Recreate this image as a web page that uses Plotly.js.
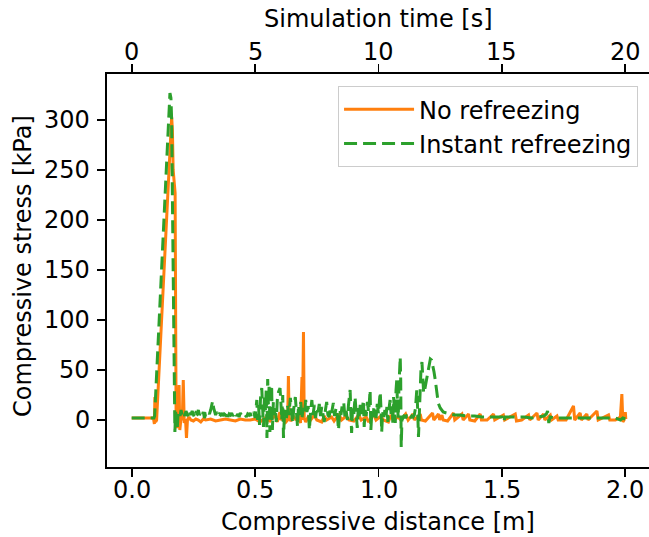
<!DOCTYPE html>
<html>
<head>
<meta charset="utf-8">
<script src="https://cdn.plot.ly/plotly-3.0.1.min.js"></script>
<style>
html,body{margin:0;padding:0;overflow:hidden;background:#fff;}
#chart{width:652px;height:537px;}
</style>
</head>
<body>
<div id="chart"></div>
<script>
// Compressive distance [m], compressive stress [kPa]
const noRefreezing = [
[0,2],[0.03,2],[0.06,2],[0.088,2],[0.092,-4],[0.094,23],[0.097,-2],[0.101,0],
[0.162,303],[0.165,290],[0.168,250],[0.172,235],[0.176,227],[0.18,0],[0.184,-8],[0.188,2],
[0.192,35],[0.195,-10],[0.2,2],[0.205,0],[0.209,40],[0.213,-3],[0.218,1],[0.222,-18],[0.226,0],
[0.232,3],[0.24,0],[0.25,-1],[0.26,1],[0.27,0],[0.28,-2],[0.29,1],[0.3,0],[0.32,1],[0.34,-1],
[0.36,0],[0.38,1],[0.4,0],[0.42,-1],[0.44,1],[0.46,0],[0.48,0],[0.5,1],[0.52,-2],[0.54,2],
[0.56,-1],[0.58,5],[0.59,-2],[0.6,8],[0.605,0],[0.615,3],[0.625,-2],[0.632,0],[0.635,44],
[0.638,2],[0.645,-1],[0.655,4],[0.665,0],[0.675,5],[0.684,-3],[0.69,43],[0.692,0],[0.696,88],
[0.699,2],[0.705,-2],[0.715,3],[0.725,0],[0.74,5],[0.75,0],[0.77,-2],[0.78,4],[0.79,0],
[0.81,3],[0.82,-1],[0.84,6],[0.85,0],[0.87,4],[0.88,0],[0.9,-1],[0.92,5],[0.93,0],[0.95,3],
[0.96,-2],[0.98,6],[0.99,0],[1.01,4],[1.02,0],[1.04,-2],[1.05,5],[1.06,0],[1.08,3],[1.09,0],
[1.11,6],[1.12,0],[1.14,6],[1.145,0],[1.169,6],[1.174,0],[1.19,-1],[1.219,7],[1.224,0],
[1.243,6],[1.248,0],[1.257,5],[1.262,0],[1.28,-1],[1.304,7],[1.309,0],[1.338,6],[1.343,0],
[1.365,6],[1.37,0],[1.39,-1],[1.412,6],[1.417,0],[1.44,0],[1.466,6],[1.471,0],[1.506,5],
[1.511,0],[1.554,6],[1.559,-1],[1.58,0],[1.608,5],[1.613,0],[1.642,7],[1.647,0],[1.669,6],
[1.674,0],[1.696,5],[1.701,0],[1.723,4],[1.728,0],[1.76,0],[1.79,14],[1.795,0],[1.817,7],
[1.822,0],[1.844,6],[1.849,0],[1.885,9],[1.89,0],[1.932,5],[1.937,0],[1.96,0],[1.98,3],
[1.986,26],[1.99,-2],[1.995,0],[2.0,8],[2.002,1]
];
const instantRefreezing = [
[0,2],[0.03,2],[0.06,2],[0.09,2],[0.093,4],[0.155,327],[0.159,322],[0.162,300],[0.165,222],
[0.168,140],[0.171,133],[0.175,-12],[0.178,8],[0.182,2],[0.185,-7],[0.188,6],[0.192,9],
[0.196,4],[0.2,10],[0.205,5],[0.21,8],[0.215,4],[0.22,9],[0.225,6],[0.23,3],[0.235,8],
[0.24,5],[0.245,9],[0.25,4],[0.255,2],[0.26,7],[0.265,6],[0.27,10],[0.275,5],[0.28,7],
[0.285,4],[0.29,8],[0.295,2],[0.3,6],[0.305,5],[0.31,8],[0.315,6],[0.32,10],[0.325,15],
[0.328,19],[0.332,12],[0.336,7],[0.34,5],[0.345,8],[0.35,4],[0.355,6],[0.36,5],[0.365,7],
[0.37,4],[0.375,6],[0.38,5],[0.385,8],[0.39,3],[0.395,6],[0.4,5],[0.405,7],[0.41,4],
[0.415,6],[0.42,8],[0.425,4],[0.43,6],[0.435,3],[0.44,7],[0.445,5],[0.45,6],[0.455,4],
[0.46,5],[0.465,3],[0.47,6],[0.475,5],[0.48,7],[0.485,3],[0.49,5],[0.495,8],
[0.5,2],[0.503,12],[0.507,20],[0.51,0],[0.514,15],[0.518,-5],[0.522,22],[0.527,32],[0.53,5],
[0.534,-7],[0.538,25],[0.542,10],[0.545,30],[0.548,-18],[0.551,41],[0.554,15],[0.557,36],
[0.56,-12],[0.563,25],[0.567,35],[0.57,-10],[0.574,18],[0.578,5],[0.582,12],[0.586,-2],
[0.59,20],[0.595,28],[0.601,32],[0.605,15],[0.608,0],[0.612,25],[0.615,-18],[0.619,5],
[0.623,10],[0.627,2],[0.632,14],[0.637,5],[0.643,22],[0.648,8],[0.652,-3],[0.657,12],
[0.663,23],[0.667,10],[0.672,-7],[0.676,15],[0.68,5],[0.685,18],[0.69,2],[0.695,12],[0.7,6],
[0.705,20],[0.71,8],[0.715,14],[0.72,-10],[0.725,9],[0.73,20],[0.735,5],[0.74,15],[0.745,2],
[0.75,12],[0.755,8],[0.76,16],[0.765,4],[0.77,13],[0.775,6],[0.78,-2],[0.785,10],[0.79,18],
[0.795,5],[0.8,3],[0.805,12],[0.81,7],[0.817,17],[0.822,4],[0.828,12],[0.833,6],[0.838,-10],
[0.843,10],[0.848,5],[0.853,15],[0.859,18],[0.864,3],[0.869,9],[0.874,0],[0.878,14],
[0.882,22],[0.885,30],[0.888,8],[0.891,-13],[0.895,12],[0.9,6],[0.905,23],[0.91,10],
[0.914,-8],[0.918,12],[0.922,4],[0.926,15],[0.93,6],[0.935,12],[0.939,20],[0.942,-7],
[0.946,10],[0.95,4],[0.955,18],[0.96,8],[0.963,25],[0.966,30],[0.969,-10],[0.973,8],
[0.978,3],[0.982,14],[0.986,10],[0.99,2],[0.995,16],[1.0,6],[1.004,20],[1.007,28],[1.01,12],
[1.013,-12],[1.017,8],[1.022,3],[1.027,12],[1.031,5],[1.034,13],[1.038,-2],[1.042,10],
[1.047,20],[1.051,6],[1.055,15],[1.058,-3],[1.061,23],[1.065,8],[1.068,-3],[1.071,30],
[1.074,40],[1.077,15],[1.08,2],[1.083,35],[1.086,55],[1.088,63],[1.09,40],[1.092,-27],
[1.095,0],[1.1,3],[1.105,5],[1.11,2],[1.115,4],[1.12,3],[1.125,5],[1.13,2],[1.135,4],
[1.14,3],[1.145,5],[1.15,12],[1.155,30],[1.158,15],[1.162,-17],[1.166,10],[1.169,37],
[1.172,50],[1.176,58],[1.179,40],[1.183,27],[1.187,30],[1.191,35],[1.195,40],[1.2,48],
[1.205,55],[1.21,61],[1.215,60],[1.22,55],[1.225,48],[1.23,40],[1.236,30],[1.242,17],
[1.25,12],[1.262,8],[1.275,7],[1.29,6],[1.31,5],[1.33,5],[1.36,4],[1.39,4],[1.42,3],
[1.45,3],[1.48,3],[1.5,3],[1.505,0],[1.508,-2],[1.512,3],[1.53,3],[1.56,3],[1.59,3],
[1.62,2],[1.65,3],[1.67,4],[1.68,6],[1.685,9],[1.688,2],[1.69,-3],[1.695,3],[1.72,2],
[1.75,2],[1.78,2],[1.81,2],[1.84,2],[1.87,2],[1.9,2],[1.93,2],[1.96,2],[1.98,0],[1.99,2],[2.0,1]
];
const seriesNames = ["No refreezing", "Instant refreezing"];
const distTicks = [0, 0.5, 1.0, 1.5, 2.0];
const distTickLabels = ["0.0", "0.5", "1.0", "1.5", "2.0"];
const timeTicks = [0, 5, 10, 15, 20];
const timeTickLabels = ["0", "5", "10", "15", "20"];
const stressTicks = [0, 50, 100, 150, 200, 250, 300];
const stressTickLabels = ["0", "50", "100", "150", "200", "250", "300"];
const titles = {
  x: "Compressive distance [m]",
  x2: "Simulation time [s]",
  y: "Compressive stress [kPa]"
};

const FONT = "DejaVu Sans, sans-serif";
const FS = 24;
const W = 652, H = 537, ML = 107, MR = 2, MT = 74, MB = 70;
const PW = W - ML - MR, PH = H - MT - MB;
// pixel offsets outside the plot area -> paper coordinates
const padX = px => (px - ML) / PW;           // px measured from left of page
const padY = py => (H - MB - py) / PH;       // py measured from top of page

const traces = [
  {
    x: noRefreezing.map(p => p[0]), y: noRefreezing.map(p => p[1]),
    type: "scatter", mode: "lines", name: seriesNames[0], legendgroup: "a",
    line: {color: "#ff7f0e", width: 3}
  },
  {
    x: instantRefreezing.map(p => p[0]), y: instantRefreezing.map(p => p[1]),
    type: "scatter", mode: "lines", name: seriesNames[1], legendgroup: "b",
    line: {color: "#2ca02c", width: 3, dash: "13px,6px"}
  },
  {
    // carrier for the top time axis (draws nothing)
    x: [timeTicks[0], timeTicks[timeTicks.length - 1]], y: [null, null],
    xaxis: "x2", yaxis: "y", type: "scatter", mode: "lines",
    showlegend: false, hoverinfo: "skip"
  }
];

const axisCommon = {
  showgrid: false, zeroline: false, showline: true, linecolor: "#000", linewidth: 1.9,
  ticks: "outside", ticklen: 8, tickwidth: 1.9, tickcolor: "#000", showticklabels: false
};

const txt = (text, extra) => Object.assign({
  text: text, showarrow: false, font: {family: FONT, size: FS, color: "#000"}, borderpad: 0
}, extra);

const xTitleCenter = 0.5 * (131.7 + 625 - 2 * ML) / PW;
const annotations = [];
distTicks.forEach((v, i) => annotations.push(txt(distTickLabels[i], {
  xref: "x", yref: "paper", x: v, y: padY(490), xanchor: "center", yanchor: "middle"})));
timeTicks.forEach((v, i) => annotations.push(txt(timeTickLabels[i], {
  xref: "x2", yref: "paper", x: v, y: padY(52), xanchor: "center", yanchor: "middle"})));
stressTicks.forEach((v, i) => annotations.push(txt(stressTickLabels[i], {
  xref: "paper", yref: "y", x: padX(91), y: v, xanchor: "right", yanchor: "middle"})));
annotations.push(txt(titles.x, {xref: "paper", yref: "paper", x: xTitleCenter, y: padY(522), xanchor: "center", yanchor: "middle"}));
annotations.push(txt(titles.x2, {xref: "paper", yref: "paper", x: xTitleCenter, y: padY(19), xanchor: "center", yanchor: "middle"}));
annotations.push(txt(titles.y, {xref: "paper", yref: "paper", x: padX(23), y: padY(266), textangle: -90, xanchor: "center", yanchor: "middle"}));

const layout = {
  width: W, height: H,
  margin: {l: ML, r: MR, t: MT, b: MB},
  paper_bgcolor: "#fff", plot_bgcolor: "#fff",
  font: {family: FONT, size: FS, color: "#000"},
  showlegend: true,
  legend: {
    x: 0.978, y: 0.969, xanchor: "right", yanchor: "top",
    bordercolor: "#cccccc", borderwidth: 1, bgcolor: "rgba(255,255,255,0.8)",
    font: {family: FONT, size: FS, color: "#000"}, tracegroupgap: 0, itemwidth: 70
  },
  xaxis: Object.assign({}, axisCommon, {range: [-0.1, 2.1], tickvals: distTicks, mirror: false}),
  xaxis2: Object.assign({}, axisCommon, {
    overlaying: "x", side: "top", anchor: "y", range: [-1, 21], tickvals: timeTicks
  }),
  yaxis: Object.assign({}, axisCommon, {range: [-47, 346], tickvals: stressTicks, mirror: true}),
  annotations: annotations
};

Plotly.newPlot("chart", traces, layout, {displayModeBar: false, staticPlot: true});
</script>
</body>
</html>
